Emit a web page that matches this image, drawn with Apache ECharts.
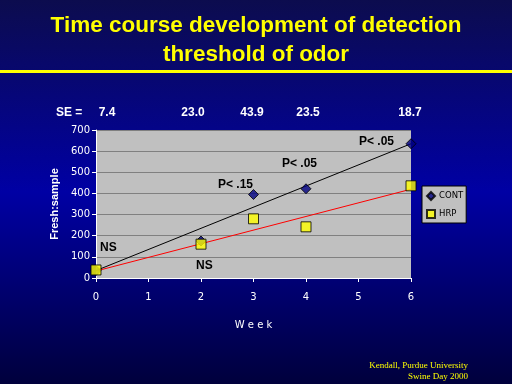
<!DOCTYPE html>
<html><head><meta charset="utf-8">
<script src="https://cdn.jsdelivr.net/npm/echarts@6/dist/echarts.min.js"></script>
<style>html,body{margin:0;padding:0;}#c{width:512px;height:384px;}</style>
</head><body><div id="c"></div>
<script>
const weeks = [0, 2, 3, 4, 6];
const contValues = [35, 175, 395, 422, 635];
const hrpValues = [38, 160, 280, 242, 436];
const contTrend = [[0, 35], [6, 635]];
const hrpTrend = [[0, 33], [6, 420]];
const seLabels = ['7.4', '23.0', '43.9', '23.5', '18.7'];
const yTicks = [0, 100, 200, 300, 400, 500, 600, 700];

const chart = echarts.init(document.getElementById('c'));
const sePos = [107, 193, 252, 308, 410];
const graphics = [
  {type:'text', x:256, y:11, style:{text:'Time course development of detection\nthreshold of odor', fill:'#ffff00', font:'bold 22.5px Arial', textAlign:'center', lineHeight:29}},
  {type:'rect', shape:{x:0, y:70, width:512, height:3}, style:{fill:'#ffff00'}},
  {type:'text', x:56, y:113, style:{text:'SE =', fill:'#fff', font:'bold 12px Arial', textAlign:'left', textVerticalAlign:'middle'}},
  {type:'text', x:100, y:248, style:{text:'NS', fill:'#000', font:'bold 12px Arial', textVerticalAlign:'middle'}},
  {type:'text', x:196, y:266, style:{text:'NS', fill:'#000', font:'bold 12px Arial', textVerticalAlign:'middle'}},
  {type:'text', x:218, y:185, style:{text:'P< .15', fill:'#000', font:'bold 12px Arial', textVerticalAlign:'middle'}},
  {type:'text', x:282, y:164, style:{text:'P< .05', fill:'#000', font:'bold 12px Arial', textVerticalAlign:'middle'}},
  {type:'text', x:359, y:142, style:{text:'P< .05', fill:'#000', font:'bold 12px Arial', textVerticalAlign:'middle'}},
  {type:'text', x:468, y:366, style:{text:'Kendall, Purdue University', fill:'#ffff00', font:'9px "Liberation Serif"', textAlign:'right', textVerticalAlign:'middle'}},
  {type:'text', x:468, y:377, style:{text:'Swine Day 2000', fill:'#ffff00', font:'9px "Liberation Serif"', textAlign:'right', textVerticalAlign:'middle'}}
];
seLabels.forEach((s, i) => graphics.push({type:'text', x:sePos[i], y:113, style:{text:s, fill:'#fff', font:'bold 12px Arial', textAlign:'center', textVerticalAlign:'middle'}}));

chart.setOption({
  animation:false,
  backgroundColor:{type:'linear', x:0, y:0, x2:0, y2:1, colorStops:[
    {offset:0, color:'#0c0c4e'}, {offset:0.5, color:'#0000a4'}, {offset:1, color:'#00003c'}]},
  grid:{left:96, right:101, top:130, bottom:106, show:true, backgroundColor:'#c0c0c0', borderWidth:0},
  legend:{orient:'vertical', left:422, top:186, data:['CONT','HRP'], backgroundColor:'#c0c0c0', borderColor:'#000', borderWidth:1, padding:[5,3,4,4], itemGap:8, itemWidth:8, itemHeight:8,
    textStyle:{color:'#000', fontSize:8.5, fontFamily:'DejaVu Sans', padding:[0,0,0,-1]}},
  xAxis:{type:'value', min:0, max:6, interval:1, name:'W e e k', nameLocation:'middle', nameGap:42,
    nameTextStyle:{color:'#fff', fontSize:10, fontFamily:'DejaVu Sans'},
    axisLine:{show:true, onZero:false, lineStyle:{color:'#fff', width:1}},
    axisTick:{show:true, inside:false, length:4, lineStyle:{color:'#fff'}},
    axisLabel:{color:'#fff', fontSize:10, fontFamily:'DejaVu Sans', margin:14},
    splitLine:{show:false}},
  yAxis:{type:'value', min:0, max:700, interval:100, name:'Fresh:sample', nameLocation:'middle', nameGap:35, nameRotate:90,
    nameTextStyle:{color:'#fff', fontSize:11, fontWeight:'bold', fontFamily:'Arial'},
    axisLine:{show:true, lineStyle:{color:'#fff', width:1}},
    axisTick:{show:true, length:4, lineStyle:{color:'#fff'}},
    axisLabel:{color:'#fff', fontSize:10, fontFamily:'DejaVu Sans', margin:6, formatter:v => yTicks.includes(v) ? String(v) : ''},
    splitLine:{show:true, lineStyle:{color:'#808080', width:1}}},
  graphic:graphics,
  series:[
    {name:'contTrend', type:'line', data:contTrend, showSymbol:false, lineStyle:{color:'#000', width:1}, silent:true, z:2},
    {name:'hrpTrend', type:'line', data:hrpTrend, showSymbol:false, lineStyle:{color:'#ff0000', width:1}, silent:true, z:2},
    {name:'CONT', type:'scatter', data:weeks.map((w,i)=>[w, contValues[i]]), symbol:'diamond', symbolSize:10,
      itemStyle:{color:'#000080', borderColor:'#000', borderWidth:1}, z:3},
    {name:'HRP', type:'scatter', data:weeks.map((w,i)=>[w, hrpValues[i]]), symbol:'rect', symbolSize:10,
      itemStyle:{color:'#ffff00', borderColor:'#000', borderWidth:1}, z:4}
  ]
});
</script></body></html>
